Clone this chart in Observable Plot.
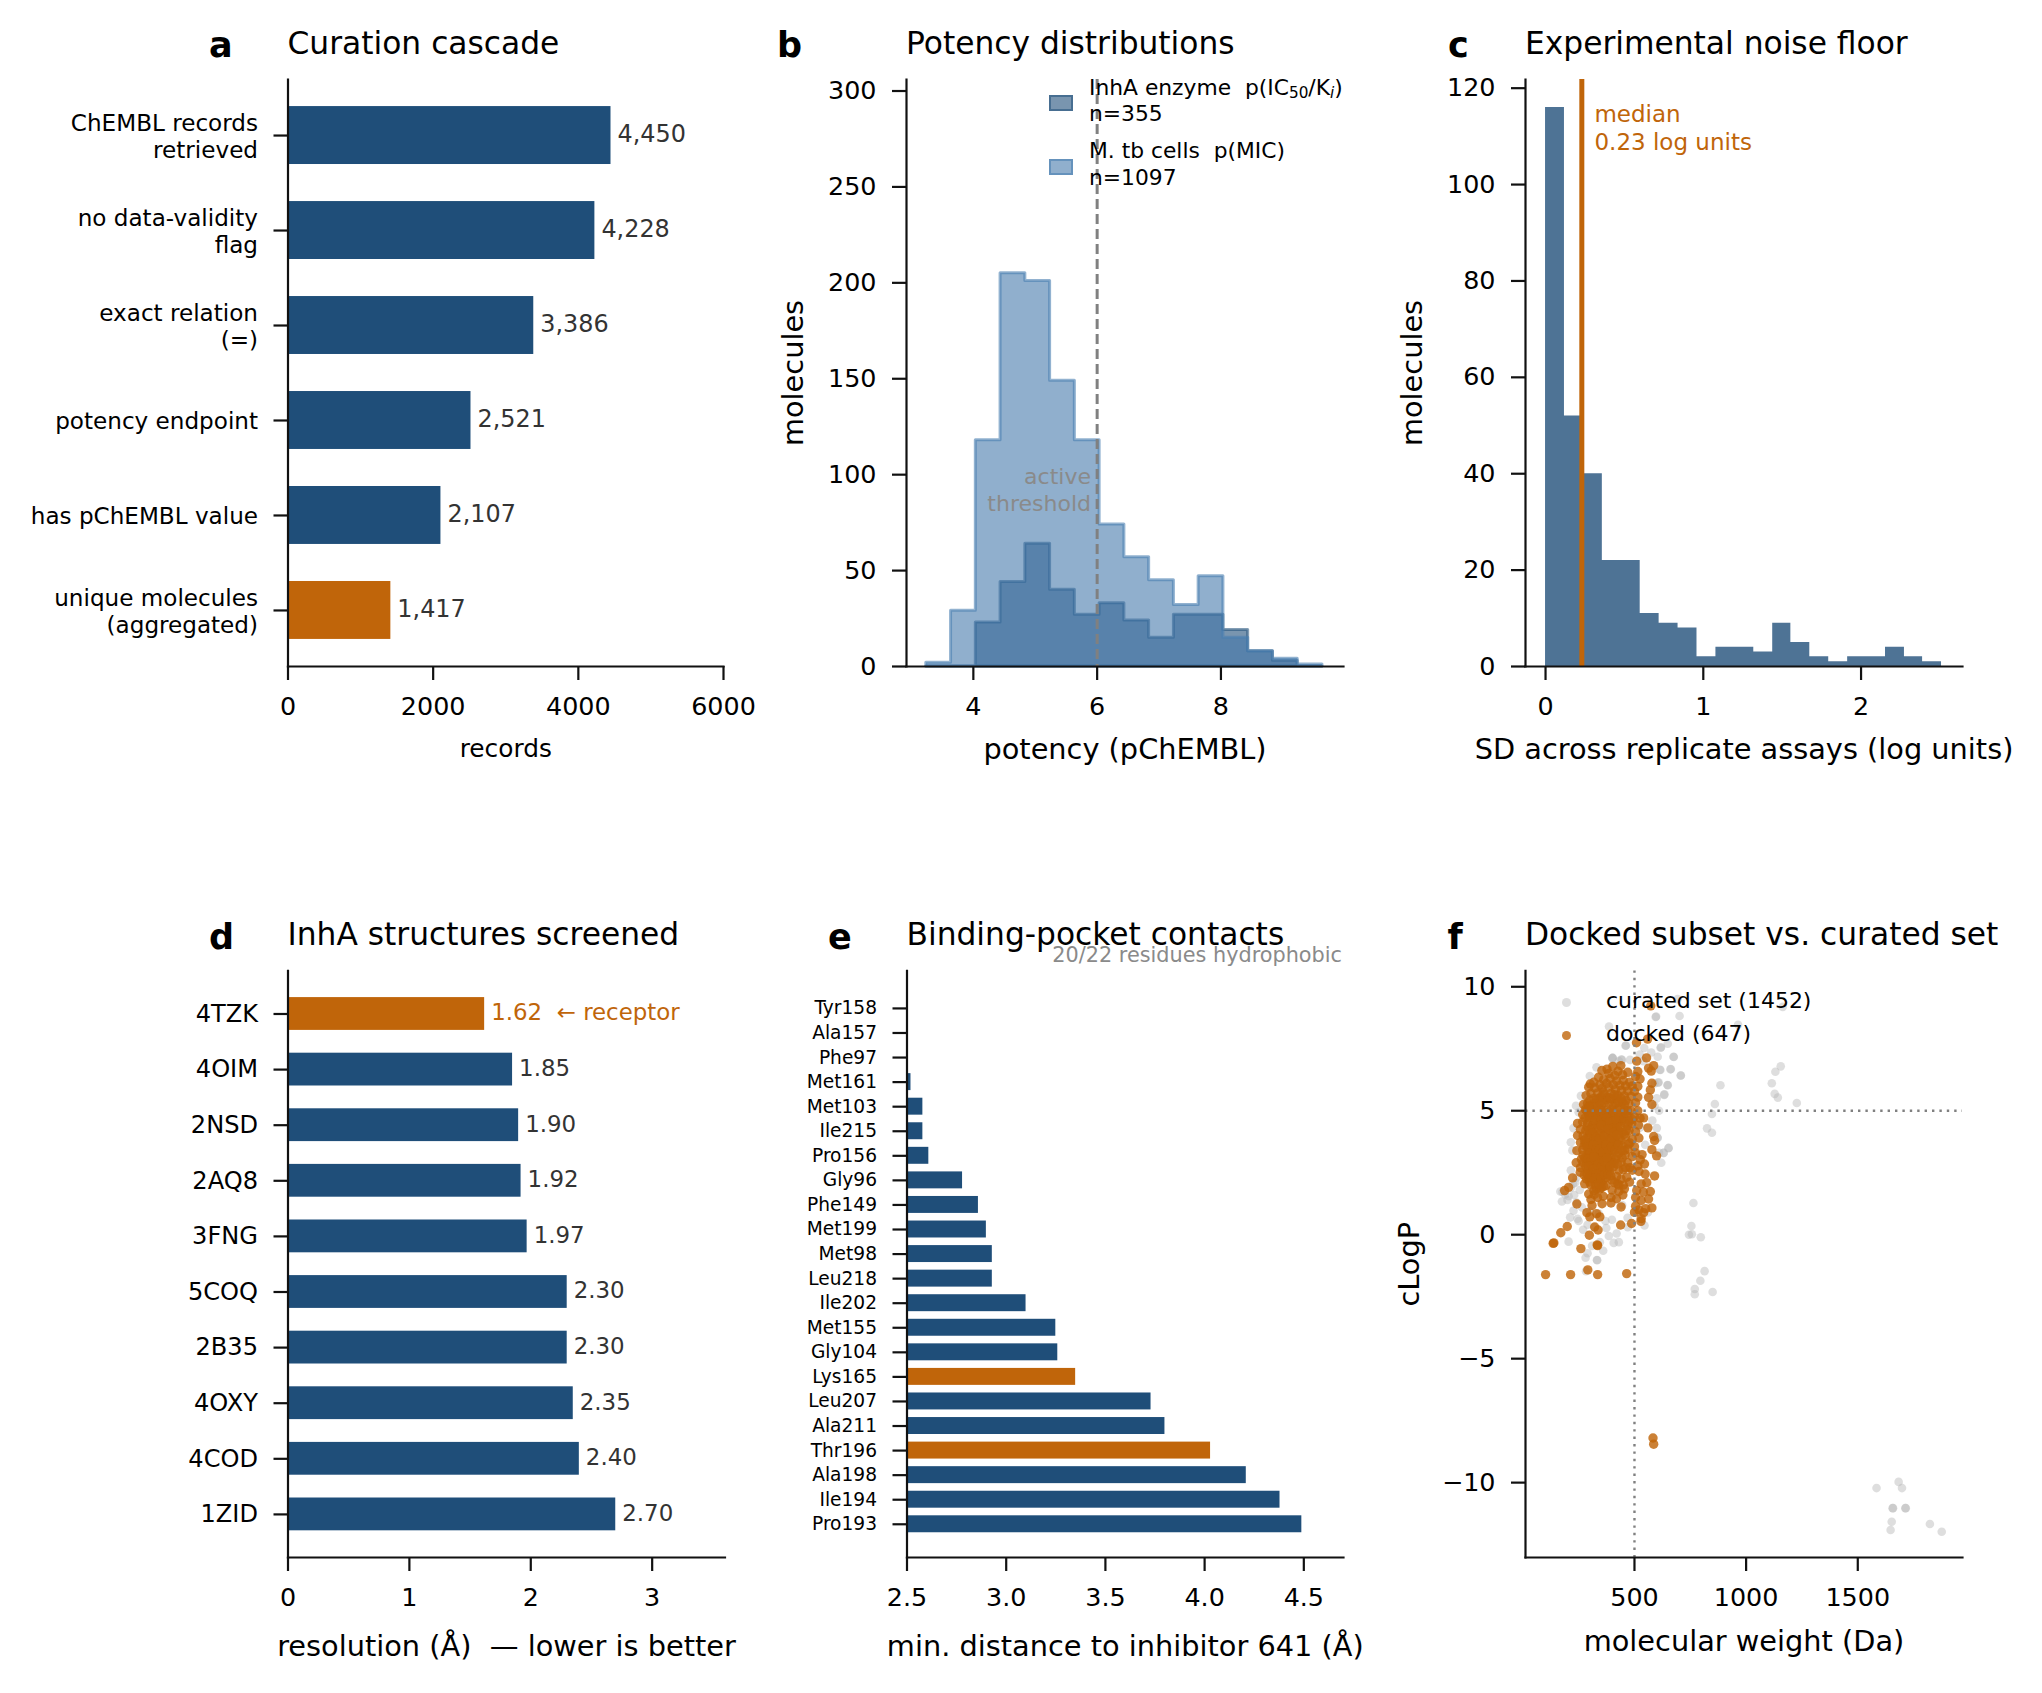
<!DOCTYPE html>
<html><head><meta charset="utf-8">
<script src="https://cdn.jsdelivr.net/npm/d3@7"></script>
<script src="https://cdn.jsdelivr.net/npm/@observablehq/plot@0.6"></script>
<style>
html,body{margin:0;padding:0;background:#fff;}
#fig{position:relative;width:2042px;height:1693px;overflow:hidden;font-family:"DejaVu Sans";color:#000;}
#fig svg{position:absolute;overflow:visible;background:transparent;}
#fig svg text{white-space:pre;}
.t{position:absolute;line-height:1;white-space:pre;}
.t sub{font-size:70%;line-height:0;vertical-align:-.2em;}
.sw{position:absolute;box-sizing:border-box;}
.dot{position:absolute;border-radius:50%;}
</style></head><body><div id="fig"></div>
<script>
const BLUE="#1f4e79", ORANGE="#c0650a";

// a
const cascadeLabels=["ChEMBL records\nretrieved","no data-validity\nflag","exact relation\n(=)","potency endpoint","has pChEMBL value","unique molecules\n(aggregated)"];
const cascadeValues=[4450,4228,3386,2521,2107,1417];
// b
const potencyEdges=[3.24,3.64,4.04,4.44,4.84,5.24,5.64,6.04,6.44,6.84,7.24,7.64,8.04,8.44,8.84,9.24,9.64];
const enzymeCounts=[0,0,23,44,64,40,27,33,24,15,27,27,19,8,3,0];
const cellCounts=[2,29,118,205,201,149,118,74,57,45,32,47,15,8,4,1];
// c
const sdEdges=[0,0.12,0.24,0.36,0.48,0.6,0.72,0.84,0.96,1.08,1.2,1.32,1.44,1.555,1.675,1.795,1.915,2.035,2.155,2.275,2.39,2.51];
const sdCounts=[116,52,40,22,22,11,9,8,2,4,4,3,9,5,2,1,2,2,4,2,1];
const sdMedian=0.23;
// d
const pdbIds=["4TZK","4OIM","2NSD","2AQ8","3FNG","5COQ","2B35","4OXY","4COD","1ZID"];
const pdbRes=[1.62,1.85,1.90,1.92,1.97,2.30,2.30,2.35,2.40,2.70];
// e
const residues=["Tyr158","Ala157","Phe97","Met161","Met103","Ile215","Pro156","Gly96","Phe149","Met199","Met98","Leu218","Ile202","Met155","Gly104","Lys165","Leu207","Ala211","Thr196","Ala198","Ile194","Pro193"];
const resDist=[2.5,2.5,2.5,2.52,2.58,2.58,2.61,2.78,2.86,2.9,2.93,2.93,3.1,3.25,3.26,3.35,3.73,3.8,4.03,4.21,4.38,4.49];
const polarResidues=["Lys165","Thr196"];
// f [MW, cLogP]
const curated=[[693,9.5],[595,8.78],[597,8.8],[702,8.82],[386,8.4],[964,8.47],[1164,9.19],[460,7.62],[649,7.7],[617,7.54],[524,7.27],[676,7.17],[401,7.12],[403,7.13],[441,7.06],[661,6.67],[707,6.42],[614,6.65],[649,6.03],[606,6.13],[634,5.66],[885,6.03],[1115,6.11],[1131,6.57],[1155,6.79],[1128,5.68],[1142,5.53],[1227,5.31],[860,5.27],[847,4.87],[825,4.29],[847,4.11],[652,3.49],[630,3.3],[603,3.92],[764,1.28],[755,.35],[744,0],[757,.02],[797,-.1],[814,-1.47],[795,-1.86],[770,-2.19],[770,-2.4],[850,-2.31],
[1584,-10.22],[1683,-9.97],[1698,-10.22],[1656,-11.03],[1658,-11.03],[1713,-11.03],[1715,-11.03],[1652,-11.58],[1647,-11.91],[1823,-11.67],[1876,-11.98],
[168,1.74],[175,1.34],[190,1.62],[205,1.55],[215,1.9],[178,1.72],[200,1.4],[227,.97],[245,.64],[212,.7],[205,-.28],[281,-.93],[332,-1.02],[333,-1.03],[283,-1.47],[407,-.33],[345,-.3],[374,.27],[399,.6],[469,.68],[545,.37],[420,.05],[385,-.05],[430,-.3],[290,-.75],[310,-.45],[360,-.65],[250,.55],[270,.2],[300,.95],[265,1.1],[240,1.3],[230,1.6],[255,1.8],[225,2.05],[240,2.3],[215,2.6],[235,2.1],[653,3.5],[631,3.3],[604,3.9],[548,3.63],[526,4.33],[633,5.64],[648,6.04],[608,6.15],[616,6.64],[663,6.68],[708,6.42],[675,7.18],[619,7.56],[462,7.63],[544,7.53],[402,7.13],[444,7.05],[604,7.18],[227,4.3],[215,3.73],[250,4.94],[222,3.4],[238,5.2],[260,5.6],[300,6.4],[330,6.75],[430,7.0],[480,7.05],[540,7.0],[575,7.35],[590,6.1],[600,5.5],[590,5.2],[610,5.0],[580,4.6],[600,4.3],[610,3.3],[620,2.9],[560,.9],[510,.9],[470,.3],[445,1.2],[370,.55],[340,.85],[320,.3],[290,.4],[410,1.6]];
const docked=[[102,-1.61],[214,-1.61],[291,-1.42],[335,-1.61],[465,-1.57],[139,-.33],[136,-.35],[170,.08],[199,.33],[260,-.56],[333,-.41],[335,-.44],[298,-.02],[322,.31],[337,.19],[438,.39],[487,.45],[529,.54],[583,-8.2],[586,-8.45],[573,9.23],[509,7.74],[559,7.89],
[510,7.0],[554,7.13],[586,6.82],[403,6.79],[439,6.82],[377,6.68],[354,6.62],[426,6.59],[470,6.55],[515,6.58],[563,6.72],[575,6.6],[385,6.5],[412,6.42],[447,6.45],[505,6.38],
[339,6.35],[362,6.25],[391,6.3],[420,6.2],[450,6.22],[478,6.15],[525,6.28],[578,6.11],[302,6.08],[318,6.15],[345,6.05],[375,6.1],[405,6.05],[435,6.02],[460,6.0],[490,6.0],[515,5.98],[295,5.95],[322,5.92],[355,5.9],[385,5.95],
[415,5.85],[442,5.82],[470,5.8],[500,5.78],[571,5.84],[283,5.61],[305,5.7],[335,5.72],[365,5.65],[395,5.7],[425,5.62],[455,5.6],[485,5.58],[515,5.55],[563,5.54],[340,5.5],[372,5.45],[400,5.48],[300,5.42],[272,5.25],[290,5.3],[320,5.28],[352,5.22],[385,5.3],[415,5.3],[445,5.35],[475,5.28],[505,5.32],[578,5.25],
[280,5.05],[305,5.08],[335,5.02],[365,5.0],[395,5.05],[425,5.08],[455,5.02],[485,5.0],[515,5.0],[268,4.85],[295,4.82],[322,4.78],[350,4.85],[380,4.8],[410,4.75],[440,4.82],[470,4.78],[500,4.75],[525,4.7],[541,4.71],[245,4.49],[268,4.55],[290,4.5],[318,4.55],[345,4.48],[372,4.52],[400,4.45],[430,4.55],[458,4.5],[488,4.48],[518,4.42],[560,4.31],
[258,4.25],[282,4.2],[308,4.28],[335,4.18],[362,4.25],[390,4.15],[418,4.22],[446,4.12],[476,4.2],[505,4.15],[245,4.0],[270,3.98],[295,3.92],[322,4.0],[350,3.95],[378,3.9],[405,3.98],[432,3.88],[460,3.95],[490,3.85],[520,3.9],[586,3.96],[590,3.8],[258,3.72],[282,3.68],[308,3.75],[335,3.65],[362,3.72],[390,3.62],[418,3.7],[445,3.6],[472,3.65],[500,3.55],[578,3.43],
[242,3.39],[268,3.42],[292,3.35],[320,3.45],[348,3.38],[376,3.3],[402,3.4],[430,3.28],[458,3.22],[505,3.3],[534,3.23],[599,3.18],[526,3.02],[239,2.9],[262,3.05],[285,3.1],[310,3.12],[335,3.0],[360,3.08],[388,2.98],[415,3.05],[440,2.92],[470,2.9],[515,2.78],[545,2.85],[258,2.7],[282,2.75],[305,2.8],[330,2.68],[355,2.78],[380,2.65],[405,2.72],[450,2.62],[490,2.6],[520,2.55],
[257,2.52],[223,2.29],[275,2.4],[300,2.45],[325,2.35],[350,2.42],[375,2.3],[400,2.2],[440,2.25],[465,2.32],[548,2.45],[590,2.37],[277,2.05],[300,2.12],[325,2.0],[350,2.1],[372,1.98],[425,2.05],[450,2.0],[478,2.12],[530,2.05],[555,2.1],[205,1.91],[187,1.78],[295,1.64],[318,1.78],[345,1.85],[400,1.8],[430,1.75],[455,1.85],[510,1.78],[540,1.72],[571,1.74],[305,1.42],[335,1.5],[360,1.55],[395,1.5],[420,1.45],[448,1.6],[505,1.5],[563,1.44],[530,1.38],[242,1.24],[310,1.18],[355,1.25],[395,1.28],[440,1.12],[505,1.15],[578,1.08],[520,1.0],[287,.89],[330,.85],[541,.89],[550,1.05],[500,.9],[530,.65],[300,.72],[345,.72],
[285,5.0],[300,4.7],[312,4.4],[330,4.9],[342,4.65],[356,4.3],[368,4.62],[385,4.95],[398,4.6],[412,4.35],[428,4.85],[445,4.6],[300,4.1],[315,3.85],[328,4.3],[345,4.1],[358,3.8],[372,4.05],[385,3.75],[398,4.3],[412,3.9],[425,4.4],[280,3.85],[295,3.55],[310,3.4],[325,3.6],[340,3.25],[352,3.55],[368,3.2],[382,3.5],[395,3.1],[410,3.55],[422,3.2],[270,3.2],[285,2.95],[298,3.25],[315,2.95],[328,3.25],[345,2.9],[358,2.55],[372,2.85],[388,2.55],[400,2.9],[270,2.9],[292,2.6],[310,2.55],[322,2.9],[340,2.55],[360,2.2],[318,2.2],[338,2.25],[295,2.3],[285,2.25],[305,2.0],[330,1.85],[352,1.9],[312,5.2],[330,5.45],[350,5.55],[365,5.3],[380,5.55],[405,5.2],[420,5.5],[438,5.15],[455,5.25],[470,5.0],[490,4.65],[470,4.4],[455,4.05],[440,3.8],[480,3.7],[455,3.4],[470,3.45],[490,3.15],[445,3.1],[480,2.7],[430,2.6],[460,2.7],[420,2.35],[430,2.0],[315,4.95],[350,5.05],[378,4.4],[392,4.85],[345,3.7],[368,3.45],[330,3.1],[305,3.6],[385,3.25],[405,3.7],[350,3.1],[360,4.7],[320,3.3],[375,2.6],[335,4.45],[308,4.85],[405,4.95],[430,4.2],[290,3.7],[275,3.6],
[278,4.7],[288,4.35],[298,5.2],[325,4.62],[352,4.62],[362,4.92],[375,4.7],[388,4.55],[405,4.3],[418,4.62],[432,4.72],[452,4.72],[462,4.9],[478,4.58],[296,4.2],[312,4.1],[328,3.92],[340,3.85],[352,4.42],[366,3.98],[382,4.28],[394,3.85],[408,4.12],[422,4.02],[438,4.35],[464,4.22],[276,3.8],[288,3.55],[302,3.3],[316,3.62],[330,3.45],[344,3.45],[358,3.32],[372,3.62],[386,3.42],[398,3.55],[414,3.42],[428,3.62],[444,3.42],[278,3.1],[292,3.05],[304,2.95],[318,3.15],[334,2.82],[350,2.72],[364,2.95],[378,3.1],[392,2.75],[408,2.88],[424,2.85],[296,2.75],[316,2.65],[330,2.45],[348,2.3],[366,2.42],[382,2.42],[394,2.38],[308,2.3],[288,2.45],[340,2.05],[362,1.95],[320,1.62],[410,2.1],[330,5.2],[345,5.35],[392,5.5],[428,5.35],[462,5.42],[360,5.75],[410,5.65],[318,5.5],[440,5.5],[295,5.15]];

function title(text,x,base,fs,extra="",html=false){
  const d=document.createElement("div");d.className="t";
  if(html)d.innerHTML=text;else d.textContent=text;
  d.style.cssText=`left:${x}px;top:${base-.846*fs}px;font-size:${fs}px;${extra}`;
  document.getElementById("fig").appendChild(d);return d;
}
function panel(L,T,W,H,f,opts,marks){
  const p=Plot.plot({width:W,height:H,marginLeft:f.l-L,marginRight:L+W-f.r,marginTop:f.t-T,marginBottom:T+H-f.b,
    style:{fontFamily:"DejaVu Sans",background:"transparent",color:"#000"},...opts,
    marks:[...marks,Plot.frame({anchor:"left",stroke:"#111",strokeWidth:2.2}),Plot.frame({anchor:"bottom",stroke:"#111",strokeWidth:2.2})]});
  p.style.left=L+"px";p.style.top=T+"px";
  document.getElementById("fig").appendChild(p);
}
const TF=d=>String(d).replace("-","−");
const ax={tickSize:14,tickPadding:16,strokeWidth:2.2,stroke:"#111",fill:"#000",label:null};
const TICK=25.4, LAB=28.8, TITLE=31.3;
const xLabel=(s,dy,fs=LAB)=>Plot.text([s],{text:d=>d,frameAnchor:"bottom",dy,fontSize:fs,fill:"#000"});
const yLabel=(s,dx,fs=LAB)=>Plot.text([s],{text:d=>d,frameAnchor:"left",textAnchor:"middle",dx,rotate:-90,fontSize:fs,fill:"#000"});
const bold="font-weight:bold;";

// a
const cascade=cascadeLabels.map((name,i)=>({name,value:cascadeValues[i]}));
panel(0,0,775,800,{l:287.5,r:723,t:79,b:666},{
  x:{domain:[0,6000]},
  y:{domain:cascadeLabels,paddingInner:.39,paddingOuter:.285,round:false},
  color:{type:"identity"}
},[
  Plot.barX(cascade,{x1:0,x2:"value",y:"name",fill:(d,i)=>d.name.startsWith("unique")?ORANGE:BLUE}),
  Plot.text(cascade,{x:"value",y:"name",text:d=>d3.format(",")(d.value),textAnchor:"start",dx:6.5,dy:-1.5,fontSize:23.9,fill:"#333"}),
  Plot.axisY({...ax,fontSize:23.1,lineHeight:1.19}),
  Plot.axisX({...ax,ticks:[0,2000,4000,6000],tickFormat:TF,fontSize:TICK}),
  xLabel("records",90,24.8)
]);
title("Curation cascade",287.5,54,TITLE);
title("a",209,58,35,bold);

// b
const steps=(edges,counts)=>[...counts.map((c,i)=>({x:edges[i],y:c})),{x:edges[edges.length-1],y:0}];
panel(775,0,615,800,{l:906,r:1343,t:79,b:666},{
  x:{domain:[2.92,9.98]},y:{domain:[0,306]}
},[
  Plot.areaY(steps(potencyEdges,enzymeCounts),{x:"x",y:"y",curve:"step-after",fill:BLUE,fillOpacity:.6,stroke:BLUE,strokeOpacity:.55,strokeWidth:3}),
  Plot.areaY(steps(potencyEdges,cellCounts),{x:"x",y:"y",curve:"step-after",fill:"#3f76a8",fillOpacity:.58,stroke:"#4a7fb0",strokeOpacity:.6,strokeWidth:3}),
  Plot.ruleX([6],{stroke:"#808080",strokeWidth:3,strokeDasharray:"10,5"}),
  Plot.text(["active\nthreshold"],{x:5.9,y:92.5,text:d=>d,textAnchor:"end",fontSize:22,lineHeight:1.21,fill:"#8a8a8a"}),
  Plot.axisY({...ax,ticks:[0,50,100,150,200,250,300],tickFormat:TF,fontSize:TICK}),
  Plot.axisX({...ax,ticks:[4,6,8],tickFormat:TF,fontSize:TICK}),
  xLabel("potency (pChEMBL)",92),yLabel("molecules",-112.5)
]);
title("Potency distributions",906,54,TITLE);
title("b",777,58,35,bold);
[[95,"rgba(31,78,121,.6)","rgba(31,78,121,.55)","InhA enzyme  p(IC<sub>50</sub>/K<sub><i>i</i></sub>)","n=355",88,114],[159,"rgba(63,118,168,.58)","rgba(74,127,176,.6)","M. tb cells  p(MIC)","n=1097",151.5,178]].forEach(([y,fl,st,a,b,y1,y2])=>{
  const s=document.createElement("div");s.className="sw";
  s.style.cssText=`left:1048.5px;top:${y}px;width:24.5px;height:16px;background:${fl};border:2.5px solid ${st};`;
  document.getElementById("fig").appendChild(s);
  title(a,1089,y1+7,21.8,"",true);title(b,1089,y2+7,21.8);
});

// c
const sdSteps=[...sdCounts.map((c,i)=>({x:sdEdges[i],y:c})),{x:sdEdges[sdEdges.length-1],y:0}];
panel(1390,0,652,800,{l:1525,r:1962,t:79,b:666},{
  x:{domain:[-.127,2.643]},y:{domain:[0,121.8]}
},[
  Plot.areaY(sdSteps,{x:"x",y:"y",curve:"step-after",fill:BLUE,fillOpacity:.79}),
  Plot.ruleX([sdMedian],{stroke:ORANGE,strokeWidth:5}),
  Plot.text(["median\n0.23 log units"],{x:.31,y:111.9,text:d=>d,textAnchor:"start",fontSize:23,lineHeight:1.2,fill:ORANGE}),
  Plot.axisY({...ax,ticks:[0,20,40,60,80,100,120],tickFormat:TF,fontSize:TICK}),
  Plot.axisX({...ax,ticks:[0,1,2],tickFormat:TF,fontSize:TICK}),
  xLabel("SD across replicate assays (log units)",92),yLabel("molecules",-113)
]);
title("Experimental noise floor",1525,54,TITLE);
title("c",1448,58,35,bold);

// d
const pdb=pdbIds.map((id,i)=>({id,res:pdbRes[i]}));
panel(0,900,775,793,{l:287.5,r:724.5,t:970.4,b:1557},{
  x:{domain:[0,3.6]},
  y:{domain:pdbIds,paddingInner:.41,paddingOuter:.48,round:false},
  color:{type:"identity"}
},[
  Plot.barX(pdb,{x1:0,x2:"res",y:"id",fill:d=>d.id==="4TZK"?ORANGE:BLUE}),
  Plot.text(pdb,{x:"res",y:"id",text:d=>d.id==="4TZK"?d.res.toFixed(2)+"  ← receptor":d.res.toFixed(2),textAnchor:"start",dx:6.5,dy:-1,fontSize:22.9,fill:d=>d.id==="4TZK"?ORANGE:"#333"}),
  Plot.axisY({...ax,fontSize:24.1}),
  Plot.axisX({...ax,ticks:[0,1,2,3],tickFormat:TF,fontSize:TICK}),
  xLabel("resolution (Å)  — lower is better",98)
]);
title("InhA structures screened",287.5,945.2,TITLE);
title("d",209,950,35,bold);

// e
const contacts=residues.map((name,i)=>({name,dist:resDist[i]}));
panel(775,900,615,793,{l:906.5,r:1343,t:970.4,b:1557},{
  x:{domain:[2.5,4.7]},
  y:{domain:residues,paddingInner:.31,paddingOuter:1.095,align:.54,round:false},
  color:{type:"identity"}
},[
  Plot.barX(contacts,{x1:2.5,x2:"dist",y:"name",fill:d=>polarResidues.includes(d.name)?ORANGE:BLUE}),
  Plot.axisY({...ax,fontSize:18.6}),
  Plot.axisX({...ax,ticks:[2.5,3,3.5,4,4.5],tickFormat:d3.format(".1f"),fontSize:TICK}),
  xLabel("min. distance to inhibitor 641 (Å)",98)
]);
title("Binding-pocket contacts",906.5,945.2,TITLE);
title("e",828,950,35,bold);
title("20/22 residues hydrophobic",1342,962.5,20.8,"color:#8a8a8a;transform:translateX(-100%);");

// f
const pts=a=>a.map(([mw,logp])=>({mw,logp}));
panel(1390,900,652,793,{l:1525,r:1962,t:970.4,b:1557},{
  x:{domain:[12,1969]},y:{domain:[-13.02,10.64]}
},[
  Plot.dot(pts(curated),{x:"mw",y:"logp",r:4.3,fill:"#b5b5b5",fillOpacity:.45}),
  Plot.dot(pts(docked),{x:"mw",y:"logp",r:4.7,fill:ORANGE,fillOpacity:.82}),
  Plot.ruleX([500],{stroke:"#808080",strokeWidth:2.4,strokeDasharray:"2.4,5"}),
  Plot.ruleY([5],{stroke:"#808080",strokeWidth:2.4,strokeDasharray:"2.4,5"}),
  Plot.axisY({...ax,ticks:[-10,-5,0,5,10],tickFormat:TF,fontSize:TICK}),
  Plot.axisX({...ax,ticks:[500,1000,1500],tickFormat:TF,fontSize:TICK}),
  xLabel("molecular weight (Da)",93),yLabel("cLogP",-116)
]);
title("Docked subset vs. curated set",1525,945.2,TITLE);
title("f",1447.5,950,35,bold);
[[1002,"rgba(181,181,181,.45)","curated set (1452)"],[1035,"rgba(192,101,10,.8)","docked (647)"]].forEach(([y,c,s])=>{
  const d=document.createElement("div");d.className="dot";
  d.style.cssText=`left:1561.5px;top:${y-4.5}px;width:9px;height:9px;background:${c};`;
  document.getElementById("fig").appendChild(d);
  title(s,1606,y+7,22);
});
</script></body></html>
